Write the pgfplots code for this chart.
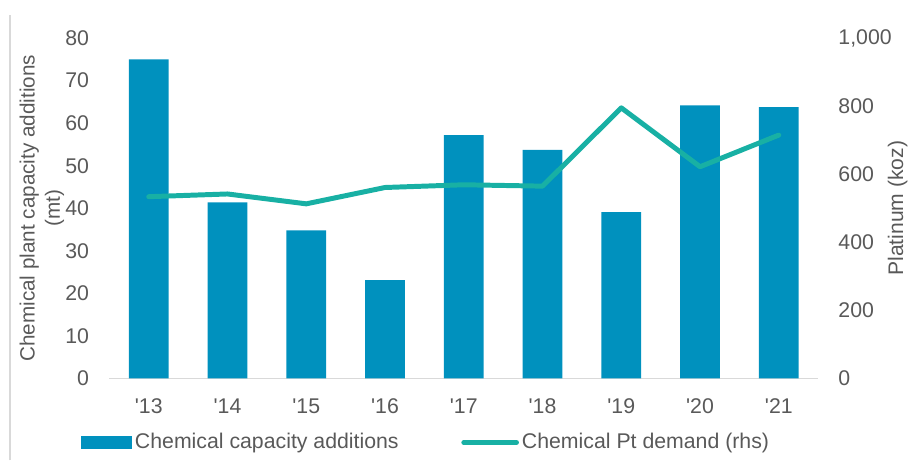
\documentclass[border=0pt]{standalone}
\usepackage{fontspec}
\setmainfont{Liberation Sans}
\usepackage{pgfplots}
\pgfplotsset{compat=1.18}
\definecolor{barblue}{RGB}{0,145,190}
\definecolor{lineteal}{RGB}{24,176,164}
\definecolor{textgray}{RGB}{89,89,89}
\definecolor{axisgray}{RGB}{217,217,217}
\begin{document}
\begin{tikzpicture}
\pgfplotsset{
  base/.style={
    scale only axis, width=356.5pt, height=171.2pt,
    xmin=-0.5, xmax=8.5,
    /pgf/number format/assume math mode=true,
    tick style={draw=none},
    every tick label/.append style={font=\fontsize{10.7}{12.8}\selectfont, text=textgray},
  }
}
\begin{axis}[base,
  ymin=0, ymax=80, ytick={0,10,...,80},
  axis x line*=bottom, axis y line*=left,
  x axis line style={draw=axisgray, line width=0.8pt, -},
  y axis line style={draw=none},
  xtick={0,...,8},
  xticklabels={\textquotesingle13,\textquotesingle14,\textquotesingle15,\textquotesingle16,\textquotesingle17,\textquotesingle18,\textquotesingle19,\textquotesingle20,\textquotesingle21},
  xticklabel style={inner sep=0pt, anchor=north, yshift=-10pt},
  yticklabel style={inner sep=0pt, anchor=east, xshift=-10pt},
  ylabel={\shortstack{Chemical plant capacity additions\\(mt)}},
  ylabel style={at={(axis description cs:-0.095,0.5)}, anchor=center, font=\fontsize{10.4}{12.6}\selectfont, text=textgray},
]
\addplot[ybar, bar width=20pt, fill=barblue, draw=none, bar shift=0pt]
coordinates {(0,75) (1,41.4) (2,34.8) (3,23.1) (4,57.2) (5,53.7) (6,39.1) (7,64.2) (8,63.8)};
\end{axis}
\begin{axis}[base,
  ymin=0, ymax=1000, ytick={0,200,...,1000},
  /pgf/number format/1000 sep={,},
  axis x line=none, axis y line*=right,
  y axis line style={draw=none},
  yticklabel style={inner sep=0pt, anchor=west, xshift=10pt},
  ylabel={Platinum (koz)},
  ylabel style={at={(axis description cs:1.112,0.5)}, anchor=center, font=\fontsize{10.6}{12.6}\selectfont, text=textgray},
  legend columns=2,
  legend style={draw=none, fill=none, inner sep=0pt, outer sep=0pt,
    at={(-0.0407,-0.188)}, anchor=west,
    font=\fontsize{10.7}{12.8}\selectfont, text=textgray,
    nodes={inner sep=1.5pt},
    /tikz/every even column/.append style={column sep=30pt}},
]
\addlegendimage{legend image code/.code={\fill[barblue] (0pt,-3pt) rectangle (25.5pt,3pt);}}
\addlegendentry{Chemical capacity additions}
\addplot[lineteal, line width=2.5pt, line join=round, line cap=round,
  legend image code/.code={\draw[lineteal, line width=2.5pt, line cap=round] (1.25pt,0pt) -- (27.75pt,0pt);}]
coordinates {(0,534) (1,542) (2,513) (3,561) (4,569) (5,565) (6,795) (7,622) (8,715)};
\addlegendentry{Chemical Pt demand (rhs)}
\end{axis}
\draw[axisgray, line width=0.6pt] (-50pt,-41.15pt) -- (-50pt,182.85pt);
\useasboundingbox (-55pt,-41.15pt) rectangle (402pt,190.35pt);
\end{tikzpicture}
\end{document}
